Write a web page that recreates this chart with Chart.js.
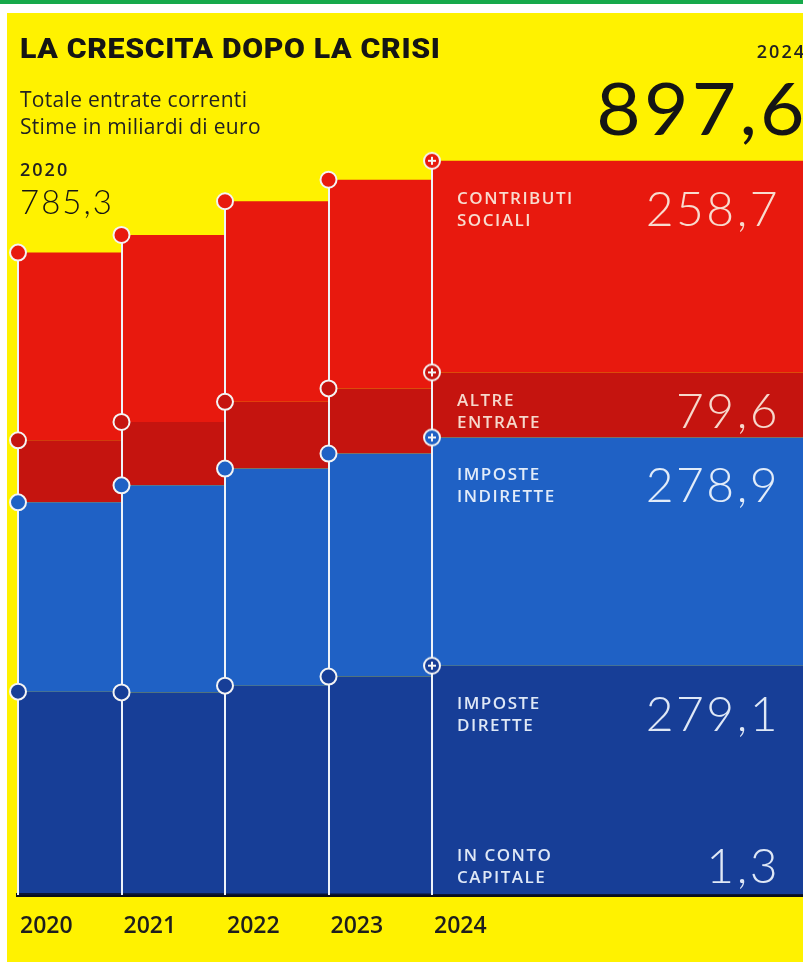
<!DOCTYPE html>
<html lang="it">
<head>
<meta charset="utf-8">
<title>La crescita dopo la crisi</title>
<script src="https://cdn.jsdelivr.net/npm/chart.js@4.4.1/dist/chart.umd.min.js"></script>
<style>
  html, body { margin: 0; padding: 0; background: #fff; }
  #page { position: relative; width: 803px; height: 962px; overflow: hidden; background: #fff; }
  #topline { position: absolute; left: 0; top: 0; width: 803px; height: 4px; background: #16a94a; }
  #panel { position: absolute; left: 7px; top: 13px; right: 0; bottom: 0; background: #fff200; }
  #chart { position: absolute; left: 0; top: 0; }
  .txt { position: absolute; line-height: 1; white-space: nowrap; color: #151515; }
  #title { left: 20px; top: 32px; font: 900 28px Roboto, sans-serif; letter-spacing: 0.6px; transform: scaleX(1.08); transform-origin: left top; }
  .sub { left: 20px; font: 400 21px "Open Sans", sans-serif; letter-spacing: 0.3px; color: #222; }
  .yr { font: 600 18px "Open Sans", sans-serif; letter-spacing: 2px; color: #222; }
  #startTotal { left: 20px; top: 181px; font: 300 33px Lato, sans-serif; letter-spacing: 2px; }
  #endTotal { right: -5px; top: 65px; font: 400 71px Lato, sans-serif; letter-spacing: 3px; transform: scaleX(1.08); transform-origin: right top; }
  .lbl { position: absolute; left: 457px; font: 600 17px/22px "Open Sans", sans-serif; letter-spacing: 1.5px; white-space: nowrap; }
  .num { position: absolute; right: 23px; font: 300 48px/1 Lato, sans-serif; letter-spacing: 2.5px; white-space: nowrap; }
</style>
</head>
<body>
<div id="page">
  <div id="topline"></div>
  <div id="panel"></div>
  <canvas id="chart" width="803" height="962"></canvas>
  <div class="txt" id="title">LA CRESCITA DOPO LA CRISI</div>
  <div class="txt sub" style="top:85px">Totale entrate correnti</div>
  <div class="txt sub" style="top:112px">Stime in miliardi di euro</div>
  <div class="txt yr" id="startYear" style="left:20px; top:157px"></div>
  <div class="txt" id="startTotal"></div>
  <div class="txt yr" id="endYear" style="right:-3px; top:39px"></div>
  <div class="txt" id="endTotal"></div>
</div>
<script>
const years = [2020, 2021, 2022, 2023, 2024];
const inContoCapitale = [2.0, 1.7, 1.5, 1.4, 1.3];
const imposteDirette = [246.6, 246.0, 254.4, 265.6, 279.1];
const imposteIndirette = [231.4, 253.1, 265.4, 272.7, 278.9];
const altreEntrate = [75.9, 77.5, 81.6, 79.6, 79.6];
const contributiSociali = [229.4, 228.6, 245.2, 255.1, 258.7];
const seriesNames = [['IN CONTO', 'CAPITALE'], ['IMPOSTE', 'DIRETTE'], ['IMPOSTE', 'INDIRETTE'], ['ALTRE', 'ENTRATE'], ['CONTRIBUTI', 'SOCIALI']];

// bottom to top
const series = [inContoCapitale, imposteDirette, imposteIndirette, altreEntrate, contributiSociali];
const colors = ['#0c1633', '#173e97', '#1f61c5', '#c5140f', '#e8190e'];
const textColors = ['#dfe8f6', '#dfe8f6', '#e2ecf9', '#f6d8cc', '#f8dccf'];
const capTops = [850, 698, 469, 395, 193];

// last step runs out to the right edge of the page
const X_END = 2020 + (803 - 18) / 103.5;

const totals = years.map((yr, i) => series.reduce((s, arr) => s + arr[i], 0));
const fmt = v => v.toFixed(1).replace('.', ',');
const last = years.length - 1;

document.getElementById('startYear').textContent = years[0];
document.getElementById('startTotal').textContent = fmt(totals[0]);
document.getElementById('endYear').textContent = years[last];
document.getElementById('endTotal').textContent = fmt(totals[last]);

const page = document.getElementById('page');
series.forEach((arr, k) => {
  const lbl = document.createElement('div');
  lbl.className = 'lbl';
  lbl.style.top = (capTops[k] - 6) + 'px';
  lbl.style.color = textColors[k];
  lbl.innerHTML = seriesNames[k].join('<br>');
  page.appendChild(lbl);
  const num = document.createElement('div');
  num.className = 'num';
  num.style.top = (capTops[k] - 9) + 'px';
  num.style.color = textColors[k];
  num.textContent = fmt(arr[last]);
  page.appendChild(num);
});

// circle with a plus sign, used for the 2024 points
function plusDot(color) {
  const c = document.createElement('canvas');
  c.width = 22; c.height = 22;
  const g = c.getContext('2d');
  g.beginPath();
  g.arc(11, 11, 8, 0, Math.PI * 2);
  g.fillStyle = color;
  g.fill();
  g.lineWidth = 2;
  g.strokeStyle = '#f4f4f4';
  g.stroke();
  g.beginPath();
  g.moveTo(7, 11); g.lineTo(15, 11);
  g.moveTo(11, 7); g.lineTo(11, 15);
  g.stroke();
  return c;
}

const datasets = series.map((arr, k) => {
  const plus = plusDot(colors[k]);
  return {
    label: seriesNames[k].join(' '),
    data: years.map((yr, i) => ({ x: yr, y: arr[i] })).concat([{ x: X_END, y: arr[last] }]),
    stepped: true,
    fill: k === 0 ? 'origin' : '-1',
    backgroundColor: colors[k],
    borderColor: colors[k],
    borderWidth: 0,
    clip: false,
    pointRadius: (ctx) => (k === 0 || ctx.dataIndex > last) ? 0 : 8,
    pointStyle: (ctx) => ctx.dataIndex === last ? plus : 'circle',
    pointBackgroundColor: colors[k],
    pointBorderColor: '#f4f4f4',
    pointBorderWidth: 2,
  };
});

const yearLines = {
  id: 'yearLines',
  beforeDatasetsDraw(chart) {
    const { ctx, scales: { x, y } } = chart;
    ctx.save();
    ctx.strokeStyle = '#eef3f9';
    ctx.lineWidth = 2;
    years.forEach((yr, i) => {
      const px = Math.round(x.getPixelForValue(yr));
      ctx.beginPath();
      ctx.moveTo(px, y.getPixelForValue(totals[i]));
      ctx.lineTo(px, y.getPixelForValue(0));
      ctx.stroke();
    });
    ctx.restore();
  },
};

new Chart(document.getElementById('chart'), {
  type: 'line',
  data: { datasets },
  options: {
    responsive: false,
    animation: false,
    layout: { autoPadding: false, padding: { left: 18, right: 0, top: 77, bottom: 0 } },
    scales: {
      x: {
        type: 'linear',
        min: 2020,
        max: X_END,
        z: 1,
        afterBuildTicks: (s) => { s.ticks = years.map((v) => ({ value: v })); },
        afterFit: (s) => { s.height = 67; s.paddingLeft = 0; s.paddingRight = 0; },
        grid: { display: false, drawTicks: false },
        border: { display: true, color: '#0a0f1c', width: 4 },
        ticks: {
          align: 'start',
          padding: 18,
          labelOffset: 2,
          autoSkip: false,
          maxRotation: 0,
          color: '#1e1e1e',
          font: { family: '"Open Sans"', size: 23, weight: '600' },
          callback: (v) => String(v),
        },
      },
      y: { stacked: true, display: false, min: 0, max: 1000 },
    },
    plugins: {
      legend: { display: false },
      tooltip: { enabled: false },
      filler: { drawTime: 'beforeDatasetsDraw' },
    },
  },
  plugins: [yearLines],
});
</script>
</body>
</html>
